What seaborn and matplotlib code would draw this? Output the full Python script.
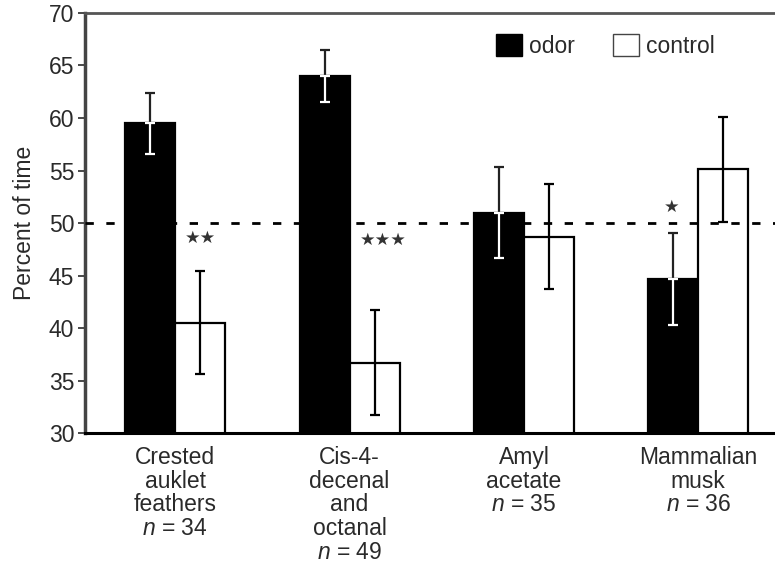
import matplotlib
matplotlib.use("Agg")
import matplotlib.pyplot as plt
import matplotlib.patches as mpatches
import seaborn as sns
import pandas as pd

# values
categories = ["Crested\nauklet\nfeathers\n$n$ = 34",
              "Cis-4-\ndecenal\nand\noctanal\n$n$ = 49",
              "Amyl\nacetate\n$n$ = 35",
              "Mammalian\nmusk\n$n$ = 36"]
odor_mean = [59.5, 64.0, 51.0, 44.7]
odor_err = [2.9, 2.5, 4.3, 4.4]
control_mean = [40.5, 36.7, 48.7, 55.1]
control_err = [4.9, 5.0, 5.0, 5.0]
stars = ["★★", "★★★", "", "★"]
star_y = [48.6, 48.4, None, 51.5]

sns.set_theme(style="ticks")
plt.rcParams["font.family"] = ["Liberation Sans", "DejaVu Sans"]
plt.rcParams["mathtext.fontset"] = "custom"
plt.rcParams["mathtext.it"] = "Liberation Sans:italic"
plt.rcParams["mathtext.rm"] = "Liberation Sans"

FS = 16.5
TXT = "#2a2a2a"

df = pd.DataFrame({
    "group": categories * 2,
    "cond": ["odor"] * 4 + ["control"] * 4,
    "value": odor_mean + control_mean,
})

fig = plt.figure(figsize=(7.75, 5.64), dpi=100)
ax = fig.add_axes([0.11, 0.232, 0.89, 0.745])

sns.barplot(data=df, x="group", y="value", hue="cond", order=categories,
            hue_order=["odor", "control"], palette=["black", "white"],
            edgecolor="black", linewidth=1.6, width=0.574, gap=0,
            errorbar=None, legend=False, ax=ax)

# error bars: white where they sit inside a black bar
odor_bars, ctrl_bars = ax.containers[0], ax.containers[1]
for bar, m, e in zip(odor_bars, odor_mean, odor_err):
    x = bar.get_x() + bar.get_width() / 2
    ax.errorbar(x, m, yerr=[[0], [e]], color="#222222", capsize=3.5,
                elinewidth=1.6, capthick=1.6, zorder=5)
    ax.errorbar(x, m, yerr=[[e], [0]], color="white", capsize=3.5,
                elinewidth=1.6, capthick=1.6, zorder=5)
for bar, m, e in zip(ctrl_bars, control_mean, control_err):
    x = bar.get_x() + bar.get_width() / 2
    ax.errorbar(x, m, yerr=e, color="black", capsize=3.5,
                elinewidth=1.6, capthick=1.6, zorder=5)

ax.axhline(50, color="black", linestyle=(0, (3, 4.5)), linewidth=2, zorder=4)

# significance marks
star_dx = [0.0, 0.05, 0.0, -0.01]
for i, (s, y) in enumerate(zip(stars, star_y)):
    if not s:
        continue
    bar = odor_bars[i] if len(s) == 1 else ctrl_bars[i]
    x = bar.get_x() + bar.get_width() / 2 + star_dx[i]
    ax.text(x, y, s, ha="center", va="center", fontsize=12.5, color="#333333",
            family="DejaVu Sans")

ax.set_ylim(30, 70)
ax.set_yticks(range(30, 71, 5))
ax.set_xlim(-0.516, 3.44)
ax.set_xlabel("")
ax.set_ylabel("Percent of time", fontsize=FS, color=TXT, labelpad=9)
ax.tick_params(axis="y", labelsize=FS, length=5, width=1.2, colors=TXT, pad=3)
ax.tick_params(axis="x", labelsize=FS, length=0, pad=9, colors=TXT)
for lab in ax.get_xticklabels():
    lab.set_linespacing(1.05)

ax.spines["right"].set_visible(False)
ax.spines["left"].set_linewidth(2.5)
ax.spines["left"].set_color("#444444")
ax.spines["top"].set_linewidth(2)
ax.spines["top"].set_color("#555555")
ax.spines["bottom"].set_linewidth(2.2)
ax.spines["bottom"].set_color("black")

handles = [mpatches.Patch(facecolor="black", edgecolor="black", label="odor"),
           mpatches.Patch(facecolor="white", edgecolor="#444444", label="control")]
leg = ax.legend(handles=handles, loc="center left", bbox_to_anchor=(0.595, 0.922),
                ncol=2, frameon=False, fontsize=FS, handlelength=1.15,
                handleheight=1.15, handletextpad=0.3, columnspacing=1.65,
                borderaxespad=0, borderpad=0)
for t in leg.get_texts():
    t.set_color(TXT)

fig.savefig("out.png", dpi=100)
